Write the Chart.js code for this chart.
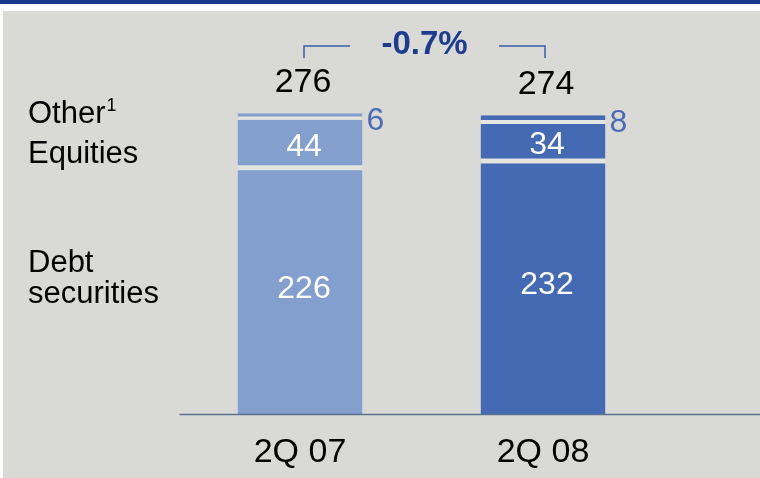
<!DOCTYPE html>
<html>
<head>
<meta charset="utf-8">
<script src="https://cdn.jsdelivr.net/npm/chart.js@4/dist/chart.umd.min.js"></script>
<style>
  html, body { margin: 0; padding: 0; background: #ffffff; }
  #wrap { width: 760px; height: 478px; }
</style>
</head>
<body>
<div id="wrap"><canvas id="myChart" width="760" height="478"></canvas></div>
<script>
// values (EUR bn)
const categories = ['2Q 07', '2Q 08'];
const debtSecurities = [226, 232];
const equities = [44, 34];
const other = [6, 8];
const totals = [276, 274];
const changeLabel = '-0.7%';

const seriesNames = ['Debt', 'Equities', 'Other'];
const barColors = ['#839fcd', '#436ab3'];
const gapColor = '#e4e5e1';
const font = '"Liberation Sans", Arial, sans-serif';

const ctx = document.getElementById('myChart').getContext('2d');

// draws the panel, the axis line and all the labels round the bars
const decorations = {
    id: 'decorations',
    beforeDraw(chart) {
        const c = chart.ctx;
        c.save();
        c.fillStyle = '#ffffff';
        c.fillRect(0, 0, chart.width, chart.height);
        c.fillStyle = '#16388a';
        c.fillRect(0, 0, chart.width, 4);
        c.fillStyle = '#d9dad5';
        c.fillRect(3, 11, chart.width - 3, chart.height - 11);
        c.restore();
    },
    afterDatasetsDraw(chart) {
        const c = chart.ctx;
        const area = chart.chartArea;
        c.save();

        // axis line runs out to the right edge
        c.strokeStyle = '#5b6f8e';
        c.lineWidth = 1.5;
        c.beginPath();
        c.moveTo(area.left + 1, area.bottom + 0.5);
        c.lineTo(chart.width, area.bottom + 0.5);
        c.stroke();

        const debtBars = chart.getDatasetMeta(0).data;
        const eqBars = chart.getDatasetMeta(1).data;
        const otherBars = chart.getDatasetMeta(2).data;

        // values inside the bars
        c.fillStyle = '#ffffff';
        c.textAlign = 'center';
        c.textBaseline = 'middle';
        c.font = '32px ' + font;
        debtBars.forEach((bar, i) => {
            c.fillText(debtSecurities[i], bar.x + 4, (bar.y + bar.base) / 2 - 2);
        });
        eqBars.forEach((bar, i) => {
            c.fillText(equities[i], bar.x + 4, (bar.y + bar.base) / 2 + 3);
        });

        // small "other" values to the right
        c.fillStyle = '#4a6cb5';
        c.textAlign = 'left';
        c.textBaseline = 'alphabetic';
        otherBars.forEach((bar, i) => {
            c.fillText(other[i], bar.x + bar.width / 2 + 4, bar.y + 17);
        });

        // totals on top
        c.fillStyle = '#000000';
        c.textAlign = 'center';
        c.font = '34px ' + font;
        otherBars.forEach((bar, i) => {
            c.fillText(totals[i], bar.x + 3, bar.y - 21);
        });

        // change bracket
        const x1 = otherBars[0].x + 4;
        const x2 = otherBars[1].x + 2;
        c.strokeStyle = '#3b5ca8';
        c.lineWidth = 1.5;
        c.beginPath();
        c.moveTo(x1, 58);
        c.lineTo(x1, 46);
        c.lineTo(x1 + 46, 46);
        c.moveTo(x2 - 46, 46);
        c.lineTo(x2, 46);
        c.lineTo(x2, 58);
        c.stroke();
        c.fillStyle = '#1c3c8f';
        c.font = 'bold 33px ' + font;
        c.fillText(changeLabel, (x1 + x2) / 2, 54);

        // series names on the left
        c.fillStyle = '#000000';
        c.textAlign = 'left';
        c.font = '31px ' + font;
        c.fillText('Other', 28, 123);
        const w = c.measureText('Other').width;
        c.font = '18px ' + font;
        c.fillText('1', 28 + w + 1, 111);
        c.font = '31px ' + font;
        c.fillText('Equities', 28, 163);
        c.fillText('Debt', 28, 272);
        c.fillText('securities', 28, 303);

        c.restore();
    }
};

function border(top, bottom) {
    return { top: top, bottom: bottom, left: 0, right: 0 };
}

const data = {
    labels: categories,
    datasets: [{
        label: seriesNames[0],
        data: debtSecurities,
        backgroundColor: barColors,
        borderColor: gapColor,
        borderWidth: border(2.5, 0),
        borderSkipped: false
    },
    {
        label: seriesNames[1],
        data: equities,
        backgroundColor: barColors,
        borderColor: gapColor,
        borderWidth: border(0, 2.5),
        borderSkipped: false
    },
    {
        label: seriesNames[2],
        data: other,
        backgroundColor: barColors,
        borderColor: gapColor,
        borderWidth: border(0, 4),
        borderSkipped: false
    }]
};

const myChart = new Chart(ctx, {
    type: 'bar',
    data: data,
    plugins: [decorations],
    options: {
        responsive: false,
        animation: false,
        devicePixelRatio: 1,
        layout: {
            padding: { left: 178.5, right: 95.5, top: 87, bottom: 0 }
        },
        datasets: {
            bar: {
                categoryPercentage: 1,
                barPercentage: 0.514
            }
        },
        scales: {
            x: {
                stacked: true,
                grid: { display: false, drawTicks: false },
                border: { display: false },
                ticks: {
                    color: '#000000',
                    padding: 18,
                    font: { family: font, size: 34 }
                },
                afterFit(scale) {
                    scale.height = 64;
                }
            },
            y: {
                stacked: true,
                display: false,
                min: 0,
                max: 300
            }
        },
        plugins: {
            legend: { display: false },
            tooltip: { enabled: false }
        }
    }
});
</script>
</body>
</html>
